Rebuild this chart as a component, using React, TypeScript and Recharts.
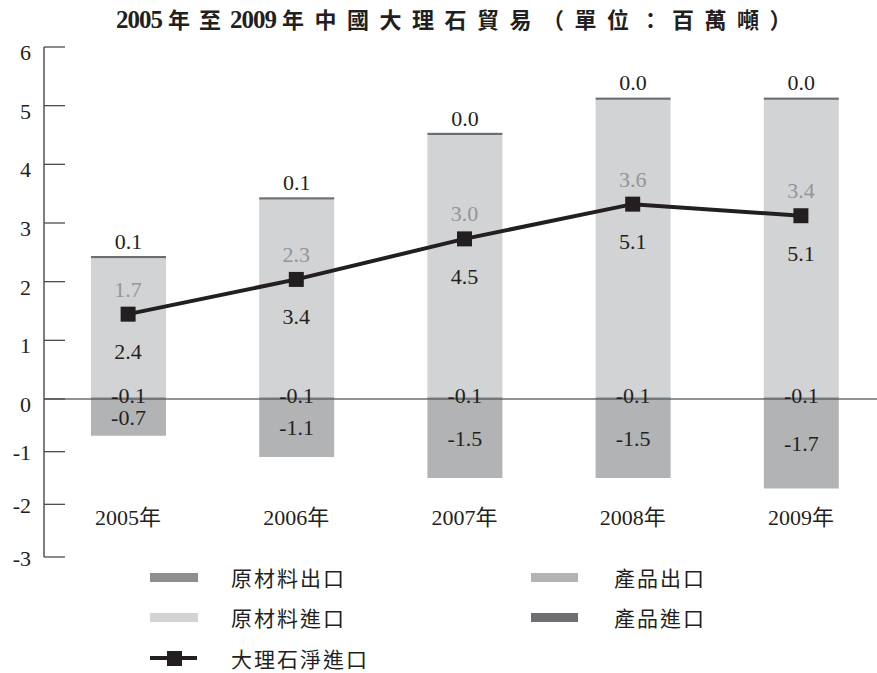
import React from 'react';
import { ComposedChart, Bar, Line, XAxis, YAxis, ReferenceLine, LabelList, Legend } from 'recharts';

// ---------- data ----------
const YEARS = ['2005年', '2006年', '2007年', '2008年', '2009年'];
const RAW_IMPORT = [2.4, 3.4, 4.5, 5.1, 5.1]; // 原材料進口
const PRODUCT_IMPORT = [0.1, 0.1, 0.0, 0.0, 0.0]; // 產品進口
const RAW_EXPORT = [-0.1, -0.1, -0.1, -0.1, -0.1]; // 原材料出口
const PRODUCT_EXPORT = [-0.7, -1.1, -1.5, -1.5, -1.7]; // 產品出口
const NET_IMPORT = [1.7, 2.3, 3.0, 3.6, 3.4]; // 大理石淨進口
const Y_TICKS = [-3, -2, -1, 0, 1, 2, 3, 4, 5, 6];
const SERIES_NAMES = ['原材料出口', '產品出口', '原材料進口', '產品進口', '大理石淨進口'];
const TITLE = ['2005', '年至', '2009', '年中國大理石貿易（單位：百萬噸）'];

const data = YEARS.map((year, i) => ({
  year,
  rawImport: RAW_IMPORT[i],
  productImport: PRODUCT_IMPORT[i],
  rawExport: RAW_EXPORT[i],
  productExport: PRODUCT_EXPORT[i],
  net: NET_IMPORT[i],
}));

// ---------- styles ----------
const SERIF = "'Liberation Serif', 'Noto Sans CJK TC', serif";
const C_RAW_EXPORT = '#8d8e90';
const C_PRODUCT_EXPORT = '#b2b3b5';
const C_RAW_IMPORT = '#d2d3d5';
const C_PRODUCT_IMPORT = '#6d6e71';
const C_LINE = '#231f20';
const C_TEXT = '#231f20';
const C_NET_LABEL = '#939598';

// The value axis of the original is split: units below zero are shorter than above.
const ZERO_FRACTION = 158 / 510;
function makeSplitScale(): any {
  let dom: number[] = [-3, 6];
  let rng: number[] = [0, 1];
  const toT = (v: number) => {
    const lo = Math.min(dom[0], dom[1]);
    const hi = Math.max(dom[0], dom[1]);
    if (v <= 0) return lo < 0 ? ZERO_FRACTION * (1 - v / lo) : ZERO_FRACTION;
    return ZERO_FRACTION + (1 - ZERO_FRACTION) * (hi > 0 ? v / hi : 0);
  };
  const scale: any = (v: any) => rng[0] + (rng[1] - rng[0]) * toT(Number(v));
  scale.domain = (d?: any[]) => {
    if (d === undefined) return dom.slice();
    dom = d.map(Number);
    return scale;
  };
  scale.range = (r?: any[]) => {
    if (r === undefined) return rng.slice();
    rng = r.map(Number);
    return scale;
  };
  scale.copy = () => {
    const s = makeSplitScale();
    s.domain(dom);
    s.range(rng);
    return s;
  };
  scale.ticks = () => {
    const lo = Math.ceil(Math.min(dom[0], dom[1]));
    const hi = Math.floor(Math.max(dom[0], dom[1]));
    const out: number[] = [];
    for (let v = lo; v <= hi; v++) out.push(v);
    return out;
  };
  scale.tickFormat = () => (v: any) => String(v);
  scale.invert = (px: number) => {
    const t = (px - rng[0]) / (rng[1] - rng[0]);
    const lo = Math.min(dom[0], dom[1]);
    const hi = Math.max(dom[0], dom[1]);
    if (t <= ZERO_FRACTION) return lo * (1 - t / ZERO_FRACTION);
    return hi * ((t - ZERO_FRACTION) / (1 - ZERO_FRACTION));
  };
  scale.nice = () => scale;
  scale.clamp = () => scale;
  scale.unknown = () => scale;
  return scale;
}
const splitScale = makeSplitScale();

const fmt = (v: any) => Number(v).toFixed(1);

const YTick = (p: any) => {
  const { x, y, payload } = p;
  const v = payload.value;
  return (
    <g>
      <line x1={x} x2={x + 21} y1={y} y2={y} stroke="#4d4d4f" strokeWidth={1.3} />
      <text x={x - 13} y={y + (v >= 0 ? 13 : 8.5)} textAnchor="end" fontFamily={SERIF} fontSize={22} fill={C_TEXT}>
        {v}
      </text>
    </g>
  );
};

const XTick = (p: any) => {
  const { x, y, payload } = p;
  return (
    <text x={x} y={y - 32} textAnchor="middle" fontFamily={SERIF} fontSize={22} fill={C_TEXT}>
      {payload.value}
    </text>
  );
};

const rectBounds = (p: any) => {
  const y = Number(p.y);
  const h = Number(p.height);
  return { top: Math.min(y, y + h), bottom: Math.max(y, y + h) };
};

// thin line sitting on the base of a stacked segment (產品進口)
const TopLineShape = (p: any) => {
  const { bottom } = rectBounds(p);
  return <rect x={p.x} y={bottom - 2.2} width={p.width} height={2.2} fill={C_PRODUCT_IMPORT} />;
};
// thin line at the zero base (原材料出口)
const ZeroLineShape = (p: any) => {
  const { top } = rectBounds(p);
  return <rect x={p.x} y={top - 1.6} width={p.width} height={2.6} fill={C_RAW_EXPORT} />;
};

const TopLabel = (p: any) => {
  const { bottom } = rectBounds(p);
  return (
    <text x={p.x + p.width / 2} y={bottom - 9.5} textAnchor="middle" fontFamily={SERIF} fontSize={22} fill={C_TEXT}>
      {fmt(p.value)}
    </text>
  );
};
const ZeroLabel = (p: any) => {
  const { top } = rectBounds(p);
  return (
    <text x={p.x + p.width / 2} y={top + 3.5} textAnchor="middle" fontFamily={SERIF} fontSize={22} fill={C_TEXT}>
      {fmt(p.value)}
    </text>
  );
};
const CenterLabel = (p: any) => {
  const { top, bottom } = rectBounds(p);
  return (
    <text x={p.x + p.width / 2} y={(top + bottom) / 2 + 7.5} textAnchor="middle" fontFamily={SERIF} fontSize={22} fill={C_TEXT}>
      {fmt(p.value)}
    </text>
  );
};
const pointXY = (p: any) => ({
  x: p.x ?? p.viewBox?.x,
  y: p.y ?? p.viewBox?.y,
});
const NetLabel = (p: any) => {
  const { x, y } = pointXY(p);
  return (
    <text x={x} y={y - 17.5} textAnchor="middle" fontFamily={SERIF} fontSize={22} fill={C_NET_LABEL}>
      {fmt(p.value)}
    </text>
  );
};
const RawImportLabel = (p: any) => {
  const { x, y } = pointXY(p);
  return (
    <text x={x} y={y + 45} textAnchor="middle" fontFamily={SERIF} fontSize={22} fill={C_TEXT}>
      {fmt(p.value)}
    </text>
  );
};

const SquareDot = (p: any) => {
  if (p.cx == null || p.cy == null) return null;
  return <rect key={p.index} x={p.cx - 7.5} y={p.cy - 7.5} width={15} height={15} fill={C_LINE} />;
};

const LegendContent = () => {
  const text: React.CSSProperties = {
    position: 'absolute',
    fontFamily: "'Noto Sans CJK TC', sans-serif",
    fontSize: 21,
    letterSpacing: 2,
    color: C_TEXT,
    lineHeight: '24px',
    whiteSpace: 'nowrap',
  };
  const sw = (left: number, top: number, w: number, color: string) => (
    <div style={{ position: 'absolute', left, top: top - 4.5, width: w, height: 9, background: color }} />
  );
  const rows = [17, 57, 98];
  return (
    <div style={{ position: 'relative', width: 877, height: 113 }}>
      {sw(150, rows[0], 48, C_RAW_EXPORT)}
      <div style={{ ...text, left: 231, top: rows[0] - 12 }}>{SERIES_NAMES[0]}</div>
      {sw(531, rows[0], 47, C_PRODUCT_EXPORT)}
      <div style={{ ...text, left: 614, top: rows[0] - 12 }}>{SERIES_NAMES[1]}</div>
      {sw(150, rows[1], 48, C_RAW_IMPORT)}
      <div style={{ ...text, left: 231, top: rows[1] - 12 }}>{SERIES_NAMES[2]}</div>
      {sw(531, rows[1], 47, C_PRODUCT_IMPORT)}
      <div style={{ ...text, left: 614, top: rows[1] - 12 }}>{SERIES_NAMES[3]}</div>
      <div style={{ position: 'absolute', left: 150, top: rows[2] - 2, width: 47, height: 4, background: C_LINE }} />
      <div style={{ position: 'absolute', left: 167, top: rows[2] - 7.5, width: 15, height: 15, background: C_LINE }} />
      <div style={{ ...text, left: 231, top: rows[2] - 12 }}>{SERIES_NAMES[4]}</div>
    </div>
  );
};

export default function App() {
  return (
    <div style={{ position: 'absolute', left: 0, top: 0, width: 877, height: 673, overflow: 'hidden', background: '#fff' }}>
      <div
        style={{
          position: 'absolute',
          left: 116,
          top: 3,
          whiteSpace: 'nowrap',
          fontWeight: 'bold',
          color: C_TEXT,
          lineHeight: '30px',
          zIndex: 2,
        }}
      >
        <span style={{ fontFamily: SERIF, fontSize: 25, letterSpacing: -1 }}>{TITLE[0]}</span>
        <span style={{ fontFamily: "'Noto Sans CJK TC'", fontSize: 22, letterSpacing: 9, marginLeft: 6 }}>{TITLE[1]}</span>
        <span style={{ fontFamily: SERIF, fontSize: 25, letterSpacing: -1 }}>{TITLE[2]}</span>
        <span style={{ fontFamily: "'Noto Sans CJK TC'", fontSize: 22, letterSpacing: 10.5, marginLeft: 6 }}>{TITLE[3]}</span>
      </div>
      <ComposedChart
        width={885}
        height={673}
        data={data}
        stackOffset="sign"
        margin={{ top: 47, right: 0, bottom: 86, left: 0 }}
      >
        <XAxis
          xAxisId="main"
          dataKey="year"
          axisLine={false}
          tickLine={false}
          tickSize={0}
          tickMargin={0}
          height={30}
          interval={0}
          tick={<XTick />}
        />
        <XAxis xAxisId="overlay" dataKey="year" height={0} hide />
        <YAxis
          yAxisId="v"
          type="number"
          domain={[-3, 6]}
          scale={splitScale}
          ticks={Y_TICKS}
          interval={0}
          allowDataOverflow
          width={44}
          axisLine={{ stroke: '#3a3a3c', strokeWidth: 1.3 }}
          tickLine={false}
          tickSize={0}
          tickMargin={0}
          tick={<YTick />}
        />
        <YAxis yAxisId="net" orientation="right" width={0} type="number" domain={[-2.494, 6.314]} allowDataOverflow hide />
        <ReferenceLine yAxisId="v" xAxisId="main" y={0} stroke="#6d6e71" strokeWidth={1.3} />
        <Bar
          xAxisId="main"
          yAxisId="v"
          dataKey="rawImport"
          name={SERIES_NAMES[2]}
          stackId="s"
          fill={C_RAW_IMPORT}
          barSize={75}
          isAnimationActive={false}
        />
        <Bar
          xAxisId="main"
          yAxisId="v"
          dataKey="productImport"
          name={SERIES_NAMES[3]}
          stackId="s"
          fill={C_PRODUCT_IMPORT}
          barSize={75}
          shape={<TopLineShape />}
          isAnimationActive={false}
        >
          <LabelList dataKey="productImport" content={<TopLabel />} />
        </Bar>
        <Bar
          xAxisId="main"
          yAxisId="v"
          dataKey="productExport"
          name={SERIES_NAMES[1]}
          stackId="s"
          fill={C_PRODUCT_EXPORT}
          barSize={75}
          isAnimationActive={false}
        >
          <LabelList dataKey="productExport" content={<CenterLabel />} />
        </Bar>
        <Bar
          xAxisId="overlay"
          yAxisId="v"
          dataKey="rawExport"
          name={SERIES_NAMES[0]}
          fill={C_RAW_EXPORT}
          barSize={75}
          shape={<ZeroLineShape />}
          isAnimationActive={false}
        >
          <LabelList dataKey="rawExport" content={<ZeroLabel />} />
        </Bar>
        <Line
          xAxisId="main"
          yAxisId="net"
          dataKey="net"
          name={SERIES_NAMES[4]}
          stroke={C_LINE}
          strokeWidth={4}
          dot={<SquareDot />}
          activeDot={false}
          isAnimationActive={false}
        >
          <LabelList dataKey="net" content={<NetLabel />} />
          <LabelList dataKey="rawImport" content={<RawImportLabel />} />
        </Line>
        <Legend
          layout="horizontal"
          verticalAlign="middle"
          align="center"
          wrapperStyle={{ top: 560, left: 0, width: 877, height: 113 }}
          content={<LegendContent />}
        />
      </ComposedChart>
    </div>
  );
}
